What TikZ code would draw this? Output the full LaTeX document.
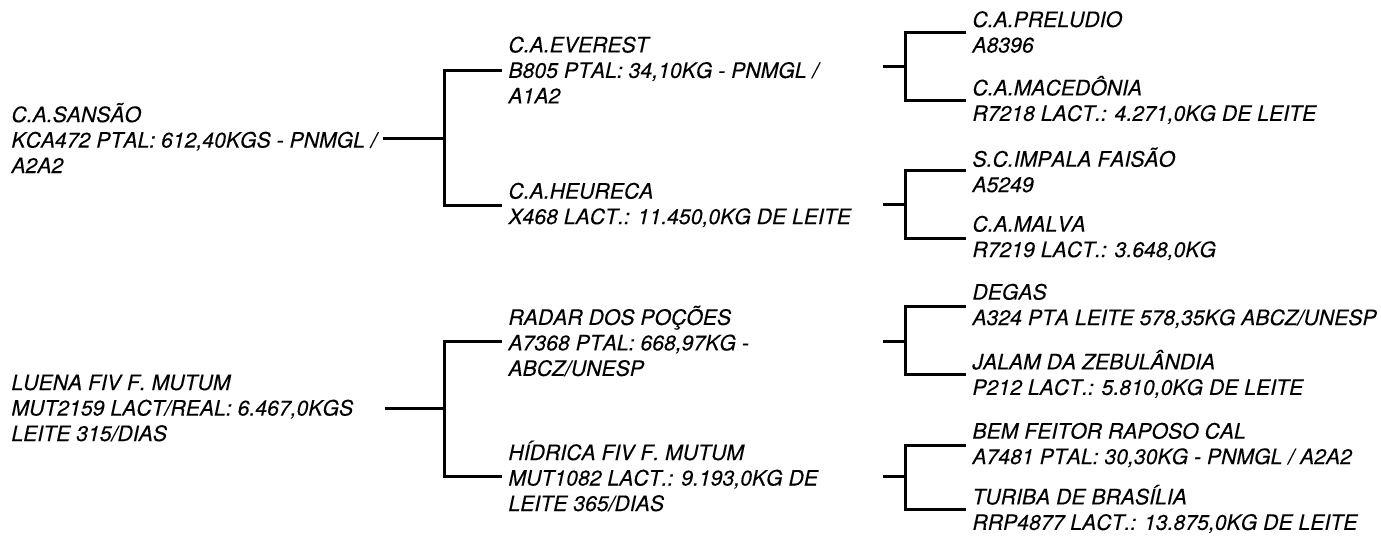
\documentclass[tikz,border=0pt]{standalone}
\usepackage{fontspec}
\setmainfont[Kerning=Off,FakeBold=0.2]{TeX Gyre Heros}

\begin{document}
\begin{tikzpicture}[x=1pt,y=-1pt,line width=3pt]
  \useasboundingbox (0,0) rectangle (1381,536);
  \tikzstyle {every node}=[anchor=west,align=left,inner xsep=5pt,inner ysep=0pt,
    font=\fontsize{21.2}{25.5}\selectfont\itshape];
  % first family
  \path (5,138) node (a0) {C.A.SANSÃO\\KCA472 PTAL: 612,40KGS - PNMGL /\\A2A2};
  \path (502,70) node (a1) {C.A.EVEREST\\B805 PTAL: 34,10KG - PNMGL /\\A1A2};
  \path (502,205) node (a2) {C.A.HEURECA\\X468 LACT.: 11.450,0KG DE LEITE};
  \path (966,32) node (a11) {C.A.PRELUDIO\\A8396};
  \path (966,100) node (a12) {C.A.MACEDÔNIA\\R7218 LACT.: 4.271,0KG DE LEITE};
  \path (966,170) node (a21) {S.C.IMPALA FAISÃO\\A5249};
  \path (966,238) node (a22) {C.A.MALVA\\R7219 LACT.: 3.648,0KG};
  % second family
  \path (5,408) node (b0) {LUENA FIV F. MUTUM\\MUT2159 LACT/REAL: 6.467,0KGS\\LEITE 315/DIAS};
  \path (502,341) node (b1) {RADAR DOS POÇÕES\\A7368 PTAL: 668,97KG -\\ABCZ/UNESP};
  \path (502,476) node (b2) {HÍDRICA FIV F. MUTUM\\MUT1082 LACT.: 9.193,0KG DE\\LEITE 365/DIAS};
  \path (966,306) node (b11) {DEGAS\\A324 PTA LEITE 578,35KG ABCZ/UNESP};
  \path (966,374) node (b12) {JALAM DA ZEBULÂNDIA\\P212 LACT.: 5.810,0KG DE LEITE};
  \path (966,445) node (b21) {BEM FEITOR RAPOSO CAL\\A7481 PTAL: 30,30KG - PNMGL / A2A2};
  \path (966,509) node (b22) {TURIBA DE BRASÍLIA\\RRP4877 LACT.: 13.875,0KG DE LEITE};

  \coordinate (ja) at (444,138);
  \coordinate (jb) at (444,408);
  \coordinate (a1s) at (883,66);
  \coordinate (a1j) at (905,66);
  \coordinate (a2s) at (883,204);
  \coordinate (a2j) at (905,204);
  \coordinate (b1s) at (883,341);
  \coordinate (b1j) at (905,341);
  \coordinate (b2s) at (883,476);
  \coordinate (b2j) at (905,476);

  \draw (a0.east) -- (ja) |- (a1.west)
        (ja) |- (a2.west);
  \draw ([xshift=25pt]b0.east) -- (jb) |- (b1.west)
        (jb) |- (b2.west);
  \draw (a1s) -- (a1j) |- (a11.west)
        (a1j) |- (a12.west);
  \draw (a2s) -- (a2j) |- (a21.west)
        (a2j) |- (a22.west);
  \draw (b1s) -- (b1j) |- (b11.west)
        (b1j) |- (b12.west);
  \draw (b2s) -- (b2j) |- (b21.west)
        (b2j) |- (b22.west);
\end{tikzpicture}
\end{document}
